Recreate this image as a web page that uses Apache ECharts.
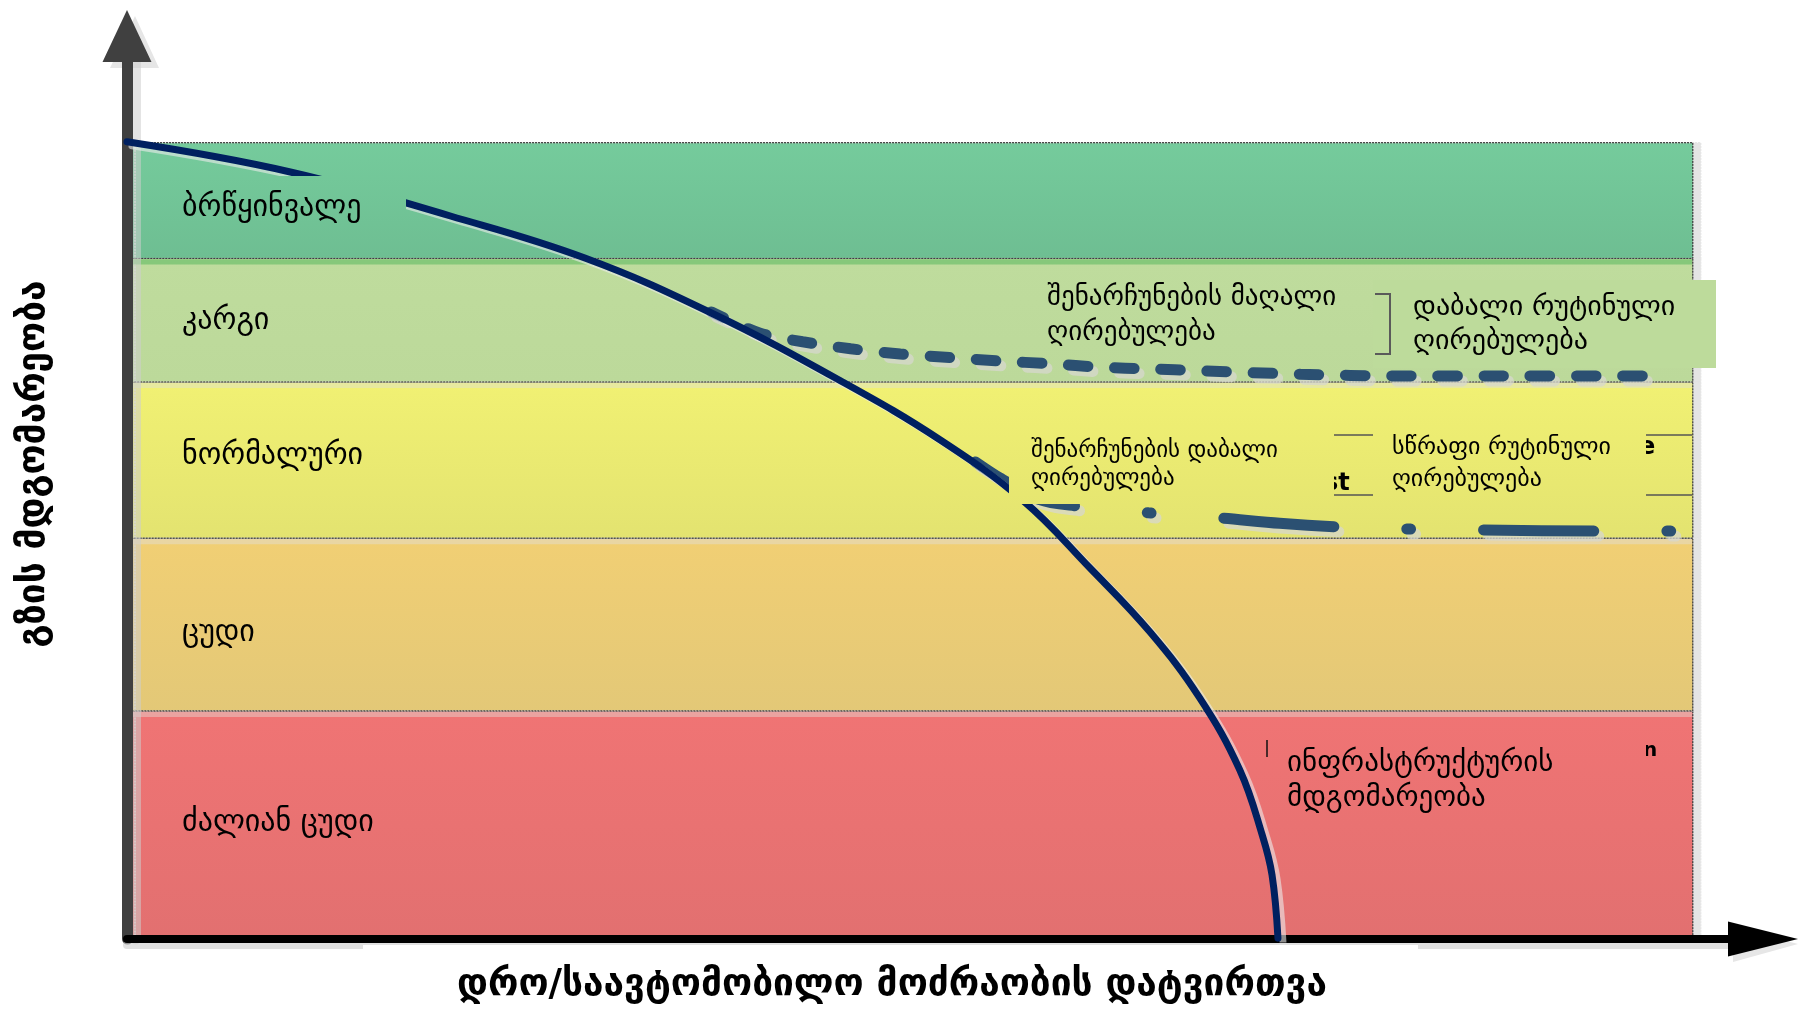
<!DOCTYPE html>
<html>
<head>
<meta charset="utf-8">
<script src="https://cdn.jsdelivr.net/npm/echarts@6/dist/echarts.min.js"></script>
<style>
  html, body { margin: 0; padding: 0; background: #ffffff; }
  #chart { width: 1798px; height: 1009px; }
</style>
</head>
<body>
<div id="chart"></div>
<script>
// Condition bands, bottom to top, on a 0–100 condition scale
const bandNames = ['ძალიან ცუდი', 'ცუდი', 'ნორმალური', 'კარგი', 'ბრწყინვალე'];
const bandEdges = [0, 26.0, 45.7, 63.5, 77.6, 90.8];
const bandEnd = 97.8;

// Infrastructure condition over time / traffic load (x: 0–100, y: 0–100)
const conditionCurve = [
  [0, 90.9], [10.2, 87.46], [20.2, 82.44], [28.6, 77.65], [36.5, 71.38],
  [44.7, 63.51], [50.8, 56.9], [56.0, 49.94], [60.15, 42.3], [63.9, 35.0],
  [67.0, 27.5], [69.5, 19.3], [70.9, 11.9], [71.52, 7.3], [71.89, 0.1]
];

// High maintenance cost path (dotted)
const highMaintenanceCost = [
  [36.5, 71.5], [39.5, 69.1], [42.2, 68.1], [45.2, 67.3], [48.3, 66.7],
  [51.4, 66.3], [54.5, 65.9], [57.7, 65.6], [60.8, 65.2], [63.9, 65.0],
  [67.0, 64.8], [73.3, 64.4], [79.5, 64.2], [85.8, 64.2], [95.0, 64.2]
];

// Low maintenance cost path (dash-dot)
const lowMaintenanceCost = [
  [53.0, 54.4], [54.5, 52.6], [57.0, 50.1], [59.2, 49.4], [63.8, 48.6],
  [68.3, 48.0], [72.0, 47.4], [75.6, 47.0], [80.1, 46.75], [84.6, 46.64],
  [92.1, 46.52], [96.9, 46.52]
];

const yAxisTitle = 'გზის მდგომარეობა';
const xAxisTitle = 'დრო/საავტომობილო მოძრაობის დატვირთვა';
const noteHighCost = 'შენარჩუნების მაღალი\nღირებულება';
const noteLowRoutine = 'დაბალი რუტინული\nღირებულება';
const noteLowCost = 'შენარჩუნების დაბალი\nღირებულება';
const noteFastRoutine = 'სწრაფი რუტინული\nღირებულება';
const noteCondition = 'ინფრასტრუქტურის\nმდგომარეობა';

// Styling
const FONT = '"DejaVu Sans"';
const bandColors = [
  ['#F07474', '#E27070'],
  ['#F1CF74', '#E3C877'],
  ['#F1F173', '#E3E370'],
  ['#BFDC9D', '#BCD99A'],
  ['#75CB9C', '#6EBE92']
];
const bandTopTint = ['#E9A8A5', '#E8D6A8', '#E6E8A4', '#7FC577', null];
const bandLabelY = [823, 633, 456, 321, 208];

const chart = echarts.init(document.getElementById('chart'), null, { renderer: 'canvas' });

function vGrad(c) {
  return { type: 'linear', x: 0, y: 0, x2: 0, y2: 1,
    colorStops: [{ offset: 0, color: c[0] }, { offset: 1, color: c[1] }] };
}

const areas = [];
bandNames.forEach((name, i) => {
  areas.push([
    { xAxis: 0, yAxis: bandEdges[i + 1], itemStyle: {
        color: vGrad(bandColors[i]), borderColor: 'rgba(60,60,60,0.85)', borderWidth: 1,
        borderType: [2, 1], shadowColor: '#E4E4E4', shadowOffsetX: 8, shadowOffsetY: 0, shadowBlur: 0 } },
    { xAxis: bandEnd, yAxis: bandEdges[i] }
  ]);
});
bandNames.forEach((name, i) => {
  if (!bandTopTint[i]) return;
  const top = bandEdges[i + 1];
  areas.push([
    { xAxis: 0.3, yAxis: top - 0.08, itemStyle: { color: bandTopTint[i], borderWidth: 0, opacity: 0.9 } },
    { xAxis: bandEnd - 0.05, yAxis: top - 0.68 }
  ]);
});

const lineShadow = { shadowColor: 'rgba(215,215,205,0.75)', shadowOffsetX: 5, shadowOffsetY: 5, shadowBlur: 0 };

chart.setOption({
  animation: false,
  grid: { left: 127, right: 70, top: 62, bottom: 70, containLabel: false },
  xAxis: {
    type: 'value', min: 0, max: 100, z: 5,
    axisLine: { show: true, onZero: false, symbol: ['none', 'triangle'], symbolSize: [35, 70], symbolOffset: [0, 35],
      lineStyle: { color: '#000000', width: 8, cap: 'round', shadowColor: 'rgba(205,205,205,0.6)', shadowOffsetY: 6, shadowBlur: 0 } },
    axisTick: { show: false }, axisLabel: { show: false }, splitLine: { show: false }
  },
  yAxis: {
    type: 'value', min: 0, max: 100, z: 5,
    axisLine: { show: true, onZero: false, symbol: ['none', 'triangle'], symbolSize: [49, 52], symbolOffset: [0, 26],
      lineStyle: { color: '#404040', width: 11, shadowColor: 'rgba(205,205,205,0.55)', shadowOffsetX: 8, shadowBlur: 0 } },
    axisTick: { show: false }, axisLabel: { show: false }, splitLine: { show: false }
  },
  series: [
    {
      name: 'bands', type: 'line', data: [], z: 1, silent: true,
      markArea: { silent: true, emphasis: { disabled: true }, label: { show: false }, data: areas }
    },
    {
      name: 'high', type: 'line', data: highMaintenanceCost, z: 6, smooth: 0.3,
      symbol: 'none', silent: true,
      lineStyle: Object.assign({ color: '#2B5072', width: 11, cap: 'round', type: [19.5, 26.7], dashOffset: 6 }, lineShadow)
    },
    {
      name: 'low', type: 'line', data: lowMaintenanceCost, z: 6, smooth: 0.3,
      symbol: 'none', silent: true,
      lineStyle: Object.assign({ color: '#2B5072', width: 11, cap: 'round', type: [110, 73, 4, 73], dashOffset: 0 }, lineShadow)
    },
    {
      name: 'condition', type: 'line', data: conditionCurve, z: 7, smooth: 0.4,
      symbol: 'none', silent: true,
      lineStyle: { color: '#002060', width: 7, cap: 'round', shadowColor: 'rgba(235,235,235,0.6)', shadowOffsetX: 5, shadowOffsetY: 4, shadowBlur: 0 }
    }
  ]
});

// Pixel extents of each band, for boxes that blend into the band colour
const py = (v) => chart.convertToPixel({ gridIndex: 0 }, [0, v])[1];
function bandFill(i) {
  return new echarts.graphic.LinearGradient(0, py(bandEdges[i + 1]), 0, py(bandEdges[i]), [
    { offset: 0, color: bandColors[i][0] }, { offset: 1, color: bandColors[i][1] }
  ], true);
}
function txt(x, y, s, font, extra, z) {
  return {
    type: 'text', x: x, y: y, z: z || 30, silent: true,
    style: Object.assign({ text: s, fill: '#000000', font: font,
      align: 'left', verticalAlign: 'middle', textAlign: 'left', textVerticalAlign: 'middle' }, extra || {})
  };
}
function box(x, y, w, h, fill) {
  return { type: 'rect', z: 25, silent: true, shape: { x: x, y: y, width: w, height: h }, style: { fill: fill } };
}

const g = [];
// arrowhead shadows
g.push({ type: 'polygon', z: 4, silent: true, shape: { points: [[110, 68], [159, 68], [135, 16]] }, style: { fill: '#E6E6E6' } });
g.push({ type: 'polygon', z: 4, silent: true, shape: { points: [[1733, 927], [1733, 962], [1798, 944]] }, style: { fill: '#E6E6E6' } });

// band labels on boxes
bandNames.forEach((name, i) => {
  g.push(box(163, bandLabelY[i] - 32, 243, 60, bandFill(i)));
  g.push(txt(182, bandLabelY[i], name, '30px ' + FONT));
});

// table rules and text remnants behind the notes
g.push({ type: 'line', z: 20, silent: true, shape: { x1: 1334, y1: 435, x2: 1692, y2: 435 }, style: { stroke: '#555', lineWidth: 1.5 } });
g.push({ type: 'line', z: 20, silent: true, shape: { x1: 1334, y1: 495, x2: 1692, y2: 495 }, style: { stroke: '#555', lineWidth: 1.5 } });
g.push(txt(1324, 484, 'st', 'bold 24px ' + FONT, null, 21));
g.push(txt(1639, 448, 'e', 'bold 24px ' + FONT, null, 21));
g.push(txt(1643, 751, 'n', 'bold 20px ' + FONT, null, 21));

// notes
g.push(txt(1047, 315.5, noteHighCost, '27px ' + FONT, { lineHeight: 35 }));
g.push({ type: 'polyline', z: 30, silent: true, shape: { points: [[1375, 294], [1390, 294], [1390, 354], [1375, 354]] },
  style: { stroke: '#5a5a5a', lineWidth: 2, fill: null } });
g.push(box(1373, 280, 343, 88, '#BDDB9B'));
g.push(txt(1413, 325, noteLowRoutine, '28px ' + FONT, { lineHeight: 34 }));

g.push(box(1009, 430, 325, 74, bandFill(2)));
g.push(txt(1031, 465, noteLowCost, '23px ' + FONT, { lineHeight: 28 }));
g.push(box(1373, 424, 273, 77, bandFill(2)));
g.push(txt(1392, 464, noteFastRoutine, '24px ' + FONT, { lineHeight: 32 }));

g.push(box(1267, 735, 379, 90, bandFill(0)));
g.push({ type: 'line', z: 30, silent: true, shape: { x1: 1267, y1: 740, x2: 1267, y2: 757 }, style: { stroke: '#111', lineWidth: 1.5 } });
g.push(txt(1287, 780.5, noteCondition, '29px ' + FONT, { lineHeight: 35 }));

// axis titles
g.push(box(363, 945, 1055, 64, '#ffffff'));
g.push(txt(892, 985, xAxisTitle, 'bold 37px ' + FONT, { align: 'center', textAlign: 'center' }));
const yTitle = txt(34, 464, yAxisTitle, 'bold 37px ' + FONT, { align: 'center', textAlign: 'center' });
yTitle.rotation = Math.PI / 2;
g.push(yTitle);

chart.setOption({ graphic: { elements: g } });
</script>
</body>
</html>
